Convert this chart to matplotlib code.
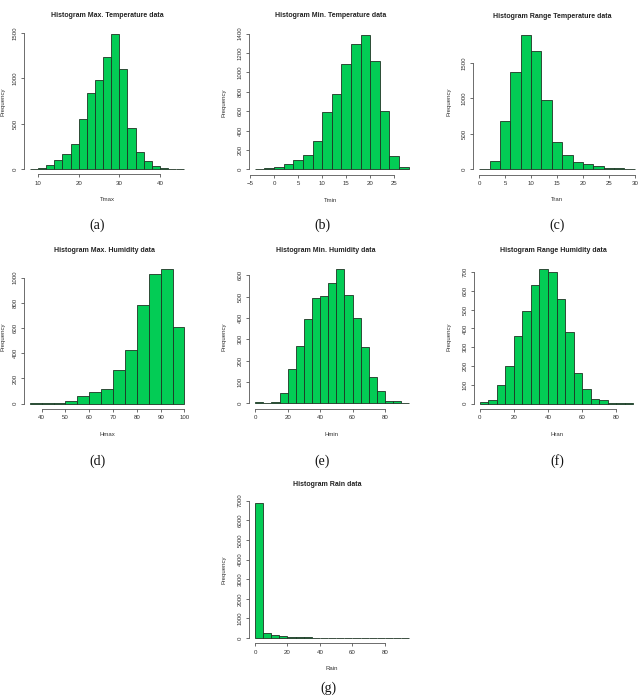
import numpy as np
import matplotlib
matplotlib.use("Agg")
import matplotlib.pyplot as plt

# histogram data (bin edges + counts)
tmax_edges = np.arange(8, 47, 2)
tmax_counts = [5, 15, 45, 100, 170, 280, 555, 840, 985, 1240, 1485, 1100, 450, 185, 90, 35, 10, 5, 3]

tmin_edges = np.arange(-4, 29, 2)
tmin_counts = [3, 10, 20, 50, 95, 145, 290, 590, 780, 1085, 1295, 1390, 1115, 600, 135, 25]

tran_edges = np.arange(0, 31, 2)
tran_counts = [10, 113, 675, 1373, 1900, 1665, 972, 387, 208, 99, 75, 47, 24, 14, 5]

hmax_edges = np.arange(35, 101, 5)
hmax_counts = [3, 3, 8, 24, 63, 93, 119, 267, 429, 780, 1032, 1066, 611]

hmin_edges = np.arange(0, 96, 5)
hmin_counts = [6, 2, 5, 50, 162, 269, 395, 494, 505, 566, 628, 508, 402, 262, 123, 58, 12, 9, 2]

hran_edges = np.arange(0, 91, 5)
hran_counts = [11, 20, 101, 200, 360, 493, 631, 714, 700, 555, 379, 165, 80, 23, 18, 4, 4, 5]

rain_edges = np.arange(0, 96, 5)
rain_counts = [6865, 240, 130, 85, 50, 35, 30, 15, 10, 8, 5, 4, 3, 2, 2, 1, 1, 1, 1]

tmax_xticks = [10, 20, 30, 40]
tmin_xticks = [-5, 0, 5, 10, 15, 20, 25]
tran_xticks = [0, 5, 10, 15, 20, 25, 30]
hmax_xticks = [40, 50, 60, 70, 80, 90, 100]
hum_xticks = [0, 20, 40, 60, 80]

tmax_yticks = [0, 500, 1000, 1500]
tmin_yticks = [0, 200, 400, 600, 800, 1000, 1200, 1400]
tran_yticks = [0, 500, 1000, 1500]
hmax_yticks = [0, 200, 400, 600, 800, 1000]
hmin_yticks = [0, 100, 200, 300, 400, 500, 600]
hran_yticks = [0, 100, 200, 300, 400, 500, 600, 700]
rain_yticks = [0, 1000, 2000, 3000, 4000, 5000, 6000, 7000]

W, H = 639, 697
GREEN = "#03CC55"
AXCOL = "#555555"
SANS = "Liberation Sans"


def fx(x):
    return x / W


def fy(y):
    return 1 - y / H


def r_hist(fig, rect, edges, counts, xticks, yticks):
    left, right, top, bottom = rect
    ax = fig.add_axes([fx(left), fy(bottom), fx(right - left), (bottom - top) / H])
    edges = np.asarray(edges, dtype=float)
    ax.bar(edges[:-1], counts, width=np.diff(edges), align="edge",
           color=GREEN, edgecolor="#1e3324", linewidth=0.6)
    # R style 4% padding around the data range
    xr = edges[-1] - edges[0]
    ymax = max(counts)
    ax.set_xlim(edges[0] - 0.04 * xr, edges[-1] + 0.04 * xr)
    ax.set_ylim(-0.04 * ymax, 1.04 * ymax)
    for s in ["top", "right"]:
        ax.spines[s].set_visible(False)
    for s in ["left", "bottom"]:
        ax.spines[s].set_color(AXCOL)
        ax.spines[s].set_linewidth(0.6)
    ax.spines["bottom"].set_bounds(xticks[0], xticks[-1])
    ax.spines["left"].set_bounds(yticks[0], yticks[-1])
    ax.set_xticks(xticks)
    ax.set_yticks(yticks)
    ax.tick_params(length=2.2, width=0.6, color=AXCOL, labelsize=4.4,
                   labelcolor="#333333", pad=2.2)
    for lab in ax.get_xticklabels() + ax.get_yticklabels():
        lab.set_family(SANS)
    for lab in ax.get_yticklabels():
        lab.set_rotation(90)
        lab.set_va("center")
    ax.patch.set_alpha(0)
    return ax


def label(fig, x, y, s, **kw):
    fig.text(fx(x), fy(y), s, ha="center", va="center", **kw)


fig = plt.figure(figsize=(W / 100, H / 100), dpi=100)

panels = [
    ((23.7, 190.6, 28.9, 174.4), tmax_edges, tmax_counts, tmax_xticks, tmax_yticks,
     "Histogram Max. Temperature data", (107, 15.7), "Tmax", (107, 200), (3.5, 102), "(a)", (97, 225)),
    ((248.6, 414.9, 29.2, 174.7), tmin_edges, tmin_counts, tmin_xticks, tmin_yticks,
     "Histogram Min. Temperature data", (331, 15.7), "Tmin", (331, 200.5), (224, 103), "(b)", (322, 225)),
    ((473.1, 640.9, 29.2, 174.7), tran_edges, tran_counts, tran_xticks, tran_yticks,
     "Histogram Range Temperature data", (552, 16), "Tran", (557, 200), (449, 102), "(c)", (557, 225)),
    ((23.6, 190.6, 264, 409), hmax_edges, hmax_counts, hmax_xticks, hmax_yticks,
     "Histogram Max. Humidity data", (104, 251), "Hmax", (107, 434.7), (3.5, 337), "(d)", (97, 461)),
    ((249.1, 415.5, 264, 408.7), hmin_edges, hmin_counts, hum_xticks, hmin_yticks,
     "Histogram Min. Humidity data", (326, 251), "Hmin", (332, 435), (224, 337), "(e)", (322, 461)),
    ((473.5, 639.6, 264, 409), hran_edges, hran_counts, hum_xticks, hran_yticks,
     "Histogram Range Humidity data", (553, 251), "Hran", (557, 435), (449, 337), "(f)", (557, 461)),
    ((248.8, 415.5, 497.9, 643.4), rain_edges, rain_counts, hum_xticks, rain_yticks,
     "Histogram Rain data", (327, 485), "Rain", (332, 669), (224, 570), "(g)", (328, 688)),
]

for (rect, edges, counts, xt, yt, title, tpos, xlab, xpos, ypos, cap, cpos) in panels:
    r_hist(fig, rect, edges, counts, xt, yt)
    label(fig, tpos[0], tpos[1], title, family=SANS, fontsize=5.0, fontweight="bold", color="#222222")
    label(fig, xpos[0], xpos[1], xlab, family=SANS, fontsize=4.3, color="#333333")
    label(fig, ypos[0], ypos[1], "Frequency", family=SANS, fontsize=4.3, color="#333333", rotation=90)
    label(fig, cpos[0], cpos[1], cap, family="Liberation Serif", fontsize=10, color="#111111")

fig.savefig("out.png", dpi=100)
